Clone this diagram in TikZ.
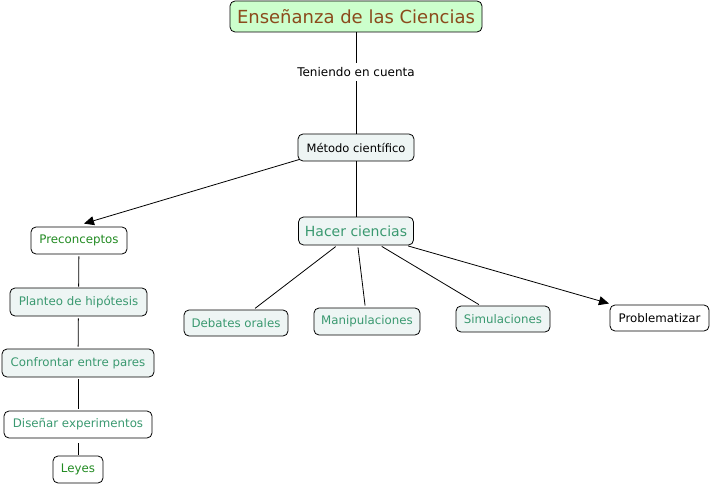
\documentclass[tikz,border=0pt]{standalone}
\usepackage{fontspec}
\setmainfont{DejaVu Sans}
\usetikzlibrary{arrows.meta,calc}
\definecolor{titlefill}{HTML}{CCFFCC}
\definecolor{titletext}{HTML}{8B4A1C}
\definecolor{lightfill}{HTML}{EEF5F4}
\definecolor{tealtext}{HTML}{3A9970}
\definecolor{greentext}{HTML}{228B22}
\tikzset{
  box/.style={draw=black, rounded corners=5pt, line width=0.8pt, inner sep=0pt, font=\fontsize{11.8}{13}\selectfont},
  lbox/.style={box, fill=lightfill, text=tealtext},
  wbox/.style={box, fill=white, text=greentext},
  link/.style={line width=0.8pt, draw=black},
  arr/.style={link, -{Triangle[length=10pt,width=9pt]}}
}
\begin{document}
\begin{tikzpicture}[x=1pt,y=-1pt]
\useasboundingbox (0,0) rectangle (711,486);
\node[box, fill=titlefill, text=titletext, minimum width=252pt, minimum height=31pt, font=\fontsize{18}{20}\selectfont] (title) at (356,16.5) {Enseñanza de las Ciencias};
\node[box, fill=lightfill, text=black, minimum width=116pt, minimum height=27pt, font=\fontsize{11.5}{13}\selectfont] (metodo) at (356,147.5) {Método científico};
\node[lbox, minimum width=115pt, minimum height=28pt, font=\fontsize{14}{16}\selectfont] (hacer) at (356,231) {Hacer ciencias};
\node[wbox, minimum width=96pt, minimum height=27pt] (precon) at (79,240.5) {Preconceptos};
\node[lbox, minimum width=137pt, minimum height=28pt] (planteo) at (78.5,302) {Planteo de hipótesis};
\node[lbox, minimum width=152pt, minimum height=28pt] (confrontar) at (78,363) {Confrontar entre pares};
\node[box, fill=white, text=tealtext, minimum width=148pt, minimum height=27pt] (disenar) at (78,424.5) {Diseñar experimentos};
\node[wbox, minimum width=50pt, minimum height=27pt] (leyes) at (78,469.5) {Leyes};
\node[lbox, minimum width=104pt, minimum height=26pt] (debates) at (236,323) {Debates orales};
\node[lbox, minimum width=106pt, minimum height=27pt] (manip) at (367,321.5) {Manipulaciones};
\node[lbox, minimum width=94pt, minimum height=26pt] (simul) at (503,319) {Simulaciones};
\node[box, fill=white, text=black, minimum width=99pt, minimum height=26pt] (problem) at (659.5,318) {Problematizar};
% connectors
\draw[link] (title) -- (metodo);
\node[fill=white, inner xsep=1pt, inner ysep=4pt, font=\fontsize{12}{14}\selectfont] (teniendo) at (356,72) {Teniendo en cuenta};
\draw[arr] ($(metodo.south west)+(2,-2)$) -- ($(precon.north)+(5,-3)$);
\draw[link] (metodo) -- (hacer);
\draw[link, shorten <=2pt, shorten >=1pt] (precon) -- (planteo);
\draw[link, shorten <=2pt, shorten >=2pt] (planteo) -- (confrontar);
\draw[link, shorten <=2pt, shorten >=2pt] (confrontar) -- (disenar);
\draw[link, shorten <=5pt, shorten >=1pt] (disenar) -- (leyes);
\draw[link, shorten <=2pt, shorten >=2pt] (hacer) -- (debates);
\draw[link, shorten <=2pt, shorten >=2pt] (hacer) -- (manip);
\draw[link, shorten <=2pt, shorten >=2pt] (hacer) -- (simul);
\draw[arr, shorten <=2pt, shorten >=4pt] (hacer) -- (problem);
\end{tikzpicture}
\end{document}
